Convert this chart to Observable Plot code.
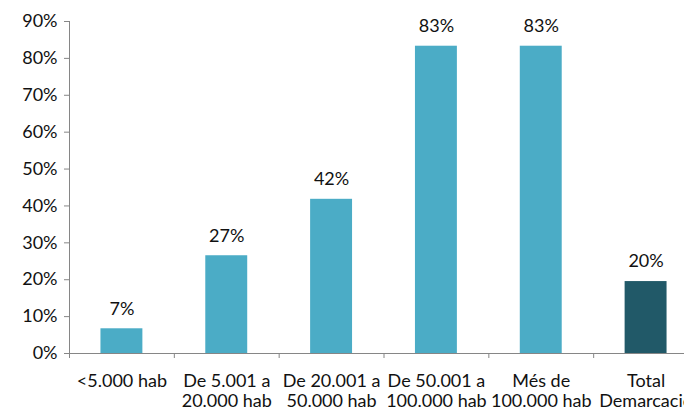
<!DOCTYPE html>
<html>
<head>
<meta charset="utf-8">
<script src="https://cdn.jsdelivr.net/npm/d3@7"></script>
<script src="https://cdn.jsdelivr.net/npm/@observablehq/plot@0.6"></script>
<style>
  html, body { margin: 0; padding: 0; background: #fff; overflow: hidden; }
  #chart svg { overflow: visible; display: block; }
</style>
</head>
<body>
<div id="chart"></div>
<script>
const categories = ["<5.000 hab", "De 5.001 a\n20.000 hab", "De 20.001 a\n50.000 hab", "De 50.001 a\n100.000 hab", "Més de\n100.000 hab", "Total\nDemarcació"];
const values = [6.7, 26.5, 41.8, 83.3, 83.3, 19.5];
const valueLabels = ["7%", "27%", "42%", "83%", "83%", "20%"];
const isTotal = [false, false, false, false, false, true];
const yTicks = [0, 10, 20, 30, 40, 50, 60, 70, 80, 90];

const data = categories.map((c, i) => ({c, i, v: values[i], label: valueLabels[i], total: isTotal[i]}));

const light = "#4BACC6";
const dark = "#215968";
const grey = "#868686";
const textColor = "#111";
const font = "Lato, 'Open Sans', sans-serif";
const fs = 18;

const chart = Plot.plot({
  width: 684,
  height: 411,
  marginTop: 21,
  marginBottom: 58,
  marginLeft: 69,
  marginRight: -14,
  style: {fontFamily: font, fontSize: fs + "px", background: "#fff", overflow: "visible"},
  x: {domain: [0, categories.length], axis: null},
  y: {domain: [0, 90], axis: null},
  marks: [
    Plot.rectY(data, {x1: d => d.i + 0.3, x2: d => d.i + 0.7, y: "v", fill: d => d.total ? dark : light}),
    Plot.ruleY([0], {stroke: grey}),
    Plot.ruleX([0], {y1: 0, y2: 90, stroke: grey}),
    Plot.axisY({ticks: yTicks, tickFormat: d => d + "%", tickSize: 5, tickPadding: 7, stroke: grey, fill: textColor, fontSize: fs, label: null}),
    Plot.axisX({ticks: d3.range(0, categories.length + 1), tickFormat: () => "", tickSize: 5, tickPadding: 0, stroke: grey, label: null}),
    Plot.text(data, {x: d => d.i + 0.5, y: "v", text: "label", dy: -20, fill: textColor, fontSize: fs}),
    Plot.text(data, {x: d => d.i + 0.5, y: 0, text: "c", lineAnchor: "top", dy: 19, lineHeight: 1.12, fill: textColor, fontSize: fs})
  ]
});
document.getElementById("chart").append(chart);
</script>
</body>
</html>
